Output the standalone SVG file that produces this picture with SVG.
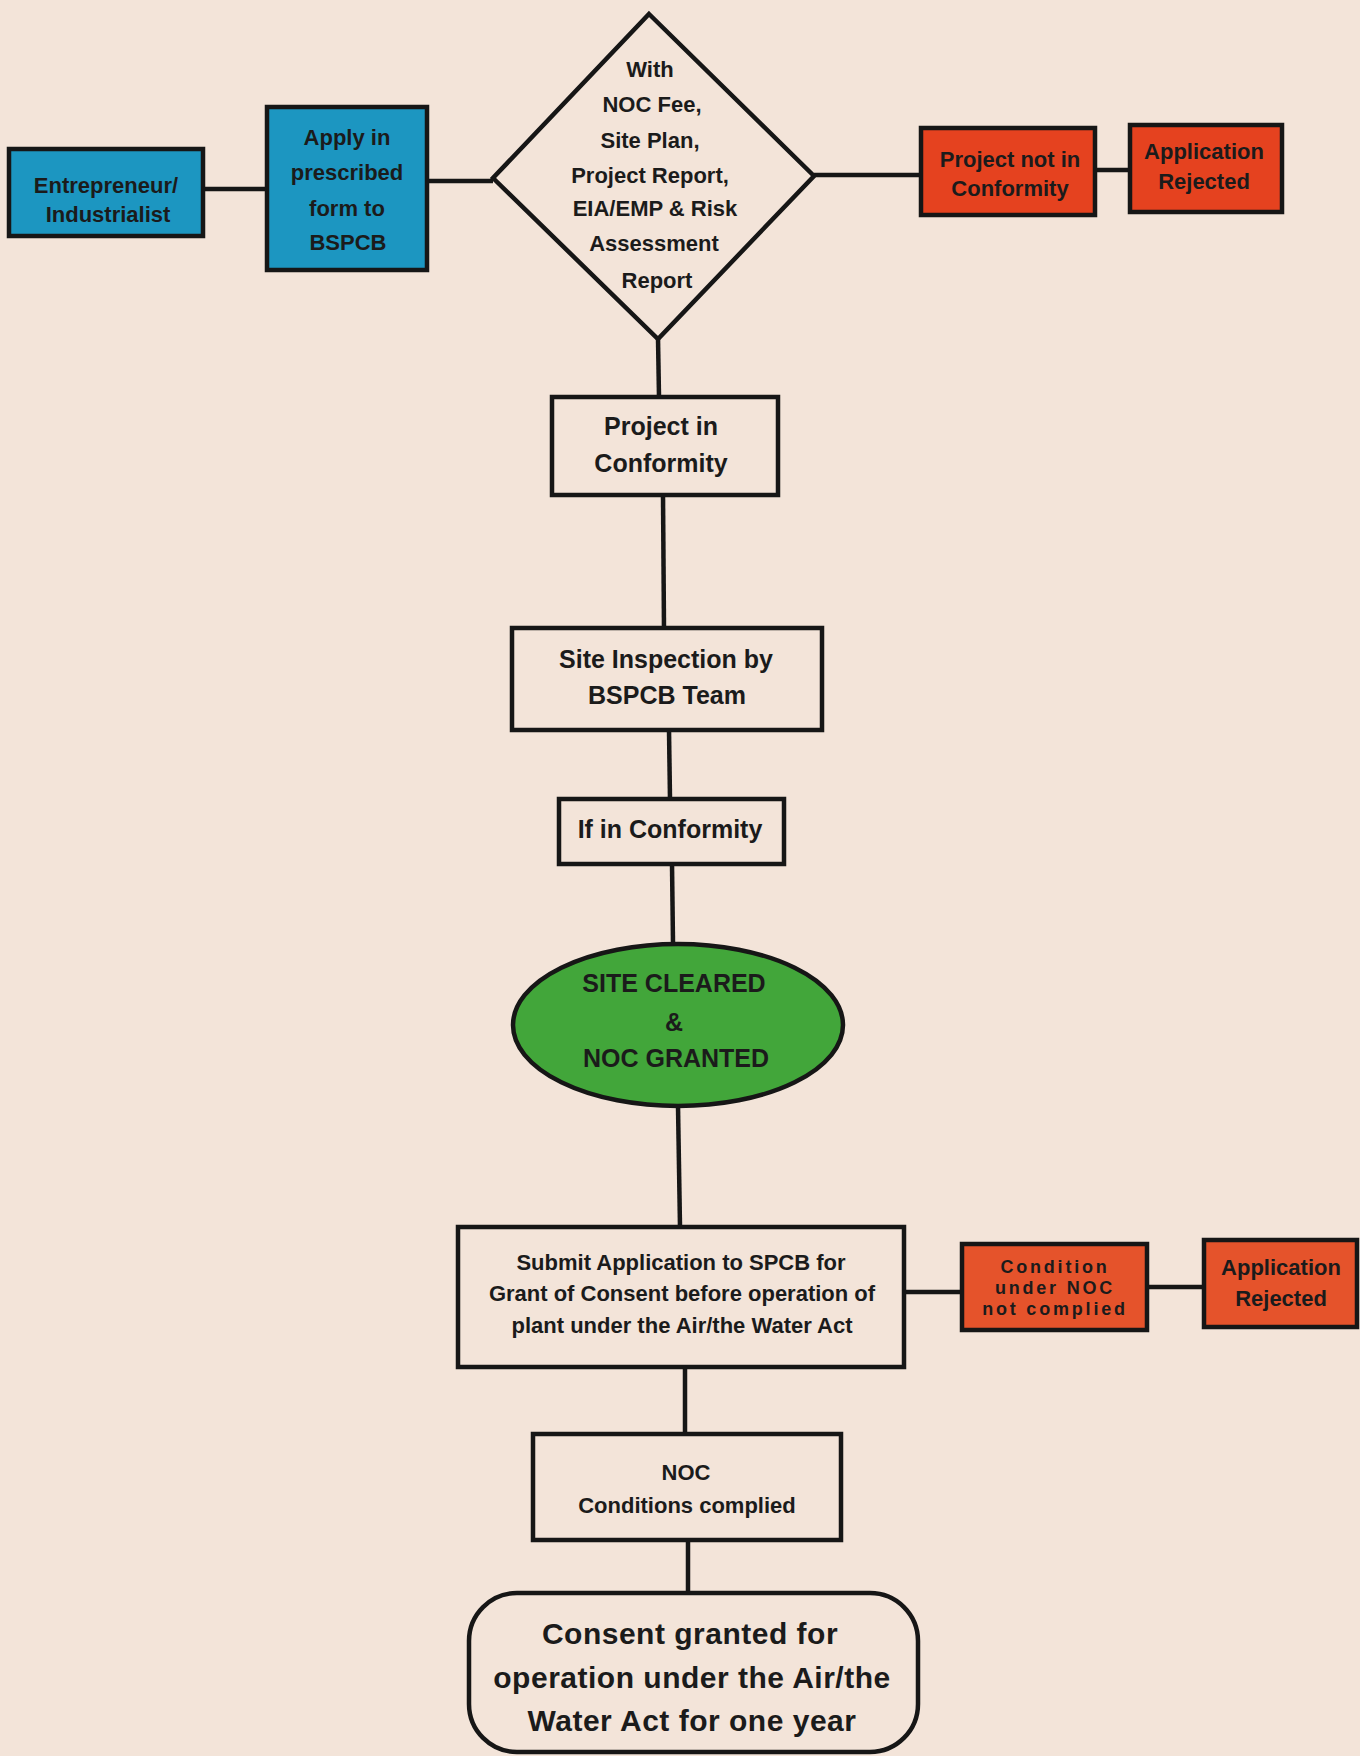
<svg xmlns="http://www.w3.org/2000/svg" width="1360" height="1756" viewBox="0 0 1360 1756">
<style>
.bg{fill:#f3e4d9}
.box{stroke:#161616;stroke-width:4.5}
.blue{fill:#1c96c1}
.red{fill:#e5421f}
.orange{fill:#e5532b}
.white{fill:#f3e4d9}
.green{fill:#42a63a}
.conn line{stroke:#161616;stroke-width:4.5}
text{font-family:"Liberation Sans",Arial,sans-serif;font-weight:bold;fill:#1b1b1b;text-anchor:middle}
.t22{font-size:22px}
.t25{font-size:25px}
.small{font-size:18px;letter-spacing:2.8px}
.big{font-size:30px;letter-spacing:0.5px}
</style>
<rect class="bg" x="0" y="0" width="1360" height="1756"/>
<g class="conn" id="connectors">
<line x1="203" y1="189" x2="267" y2="189"/>
<line x1="427" y1="181" x2="493" y2="181"/>
<line x1="814" y1="175" x2="921" y2="175"/>
<line x1="1095" y1="170" x2="1130" y2="170"/>
<line x1="658" y1="338" x2="659" y2="397"/>
<line x1="663" y1="495" x2="664" y2="628"/>
<line x1="669" y1="730" x2="670" y2="799"/>
<line x1="672" y1="864" x2="673" y2="943"/>
<line x1="678" y1="1106" x2="680" y2="1227"/>
<line x1="904" y1="1292" x2="962" y2="1292"/>
<line x1="1147" y1="1287" x2="1204" y2="1287"/>
<line x1="685" y1="1367" x2="685" y2="1434"/>
<line x1="688" y1="1540" x2="688" y2="1593"/>
</g>
<g id="entrepreneur">
<rect class="box blue" x="9" y="149" width="194" height="87"/>
<text class="t22" x="106" y="193">Entrepreneur/</text>
<text class="t22" x="108" y="222">Industrialist</text>
</g>
<g id="apply">
<rect class="box blue" x="267" y="107" width="160" height="163"/>
<text class="t22" x="347" y="145">Apply in</text>
<text class="t22" x="347" y="180">prescribed</text>
<text class="t22" x="347" y="216">form to</text>
<text class="t22" x="348" y="250">BSPCB</text>
</g>
<g id="decision">
<polygon class="box white" points="649,14 814,176 658,339 493,178"/>
<text class="t22" x="650" y="77">With</text>
<text class="t22" x="652" y="112">NOC Fee,</text>
<text class="t22" x="650" y="148">Site  Plan,</text>
<text class="t22" x="650" y="183">Project Report,</text>
<text class="t22" x="655" y="216">EIA/EMP &amp; Risk</text>
<text class="t22" x="654" y="251">Assessment</text>
<text class="t22" x="657" y="288">Report</text>
</g>
<g id="not-conformity">
<rect class="box red" x="921" y="128" width="174" height="87"/>
<text class="t22" x="1010" y="167">Project not in</text>
<text class="t22" x="1010" y="196">Conformity</text>
</g>
<g id="rejected1">
<rect class="box red" x="1130" y="125" width="152" height="87"/>
<text class="t22" x="1204" y="159">Application</text>
<text class="t22" x="1204" y="189">Rejected</text>
</g>
<g id="project-conformity">
<rect class="box white" x="552" y="397" width="226" height="98"/>
<text class="t25" x="661" y="435">Project in</text>
<text class="t25" x="661" y="472">Conformity</text>
</g>
<g id="site-inspection">
<rect class="box white" x="512" y="628" width="310" height="102"/>
<text class="t25" x="666" y="668">Site Inspection by</text>
<text class="t25" x="667" y="704">BSPCB Team</text>
</g>
<g id="if-conformity">
<rect class="box white" x="559" y="799" width="225" height="65"/>
<text class="t25" x="670" y="838">If in Conformity</text>
</g>
<g id="site-cleared">
<ellipse class="box green" cx="678" cy="1025" rx="165" ry="81"/>
<text class="t25" x="674" y="992">SITE CLEARED</text>
<text class="t25" x="674" y="1031">&amp;</text>
<text class="t25" x="676" y="1067">NOC GRANTED</text>
</g>
<g id="submit">
<rect class="box white" x="458" y="1227" width="446" height="140"/>
<text class="t22" x="681" y="1270">Submit Application to SPCB for</text>
<text class="t22" x="682" y="1301">Grant of Consent before operation of</text>
<text class="t22" x="682" y="1333">plant under the Air/the Water Act</text>
</g>
<g id="condition-not-complied">
<rect class="box orange" x="962" y="1244" width="185" height="86"/>
<text class="small" x="1055" y="1273">Condition</text>
<text class="small" x="1055" y="1294">under NOC</text>
<text class="small" x="1055" y="1315">not complied</text>
</g>
<g id="rejected2">
<rect class="box orange" x="1204" y="1240" width="153" height="87"/>
<text class="t22" x="1281" y="1275">Application</text>
<text class="t22" x="1281" y="1306">Rejected</text>
</g>
<g id="noc-complied">
<rect class="box white" x="533" y="1434" width="308" height="106"/>
<text class="t22" x="686" y="1480">NOC</text>
<text class="t22" x="687" y="1513">Conditions complied</text>
</g>
<g id="consent">
<rect class="box white" x="469" y="1593" width="449" height="159" rx="48" ry="48"/>
<text class="big" x="690" y="1644">Consent granted for</text>
<text class="big" x="692" y="1688">operation under the Air/the</text>
<text class="big" x="692" y="1731">Water Act for one year</text>
</g>
</svg>
